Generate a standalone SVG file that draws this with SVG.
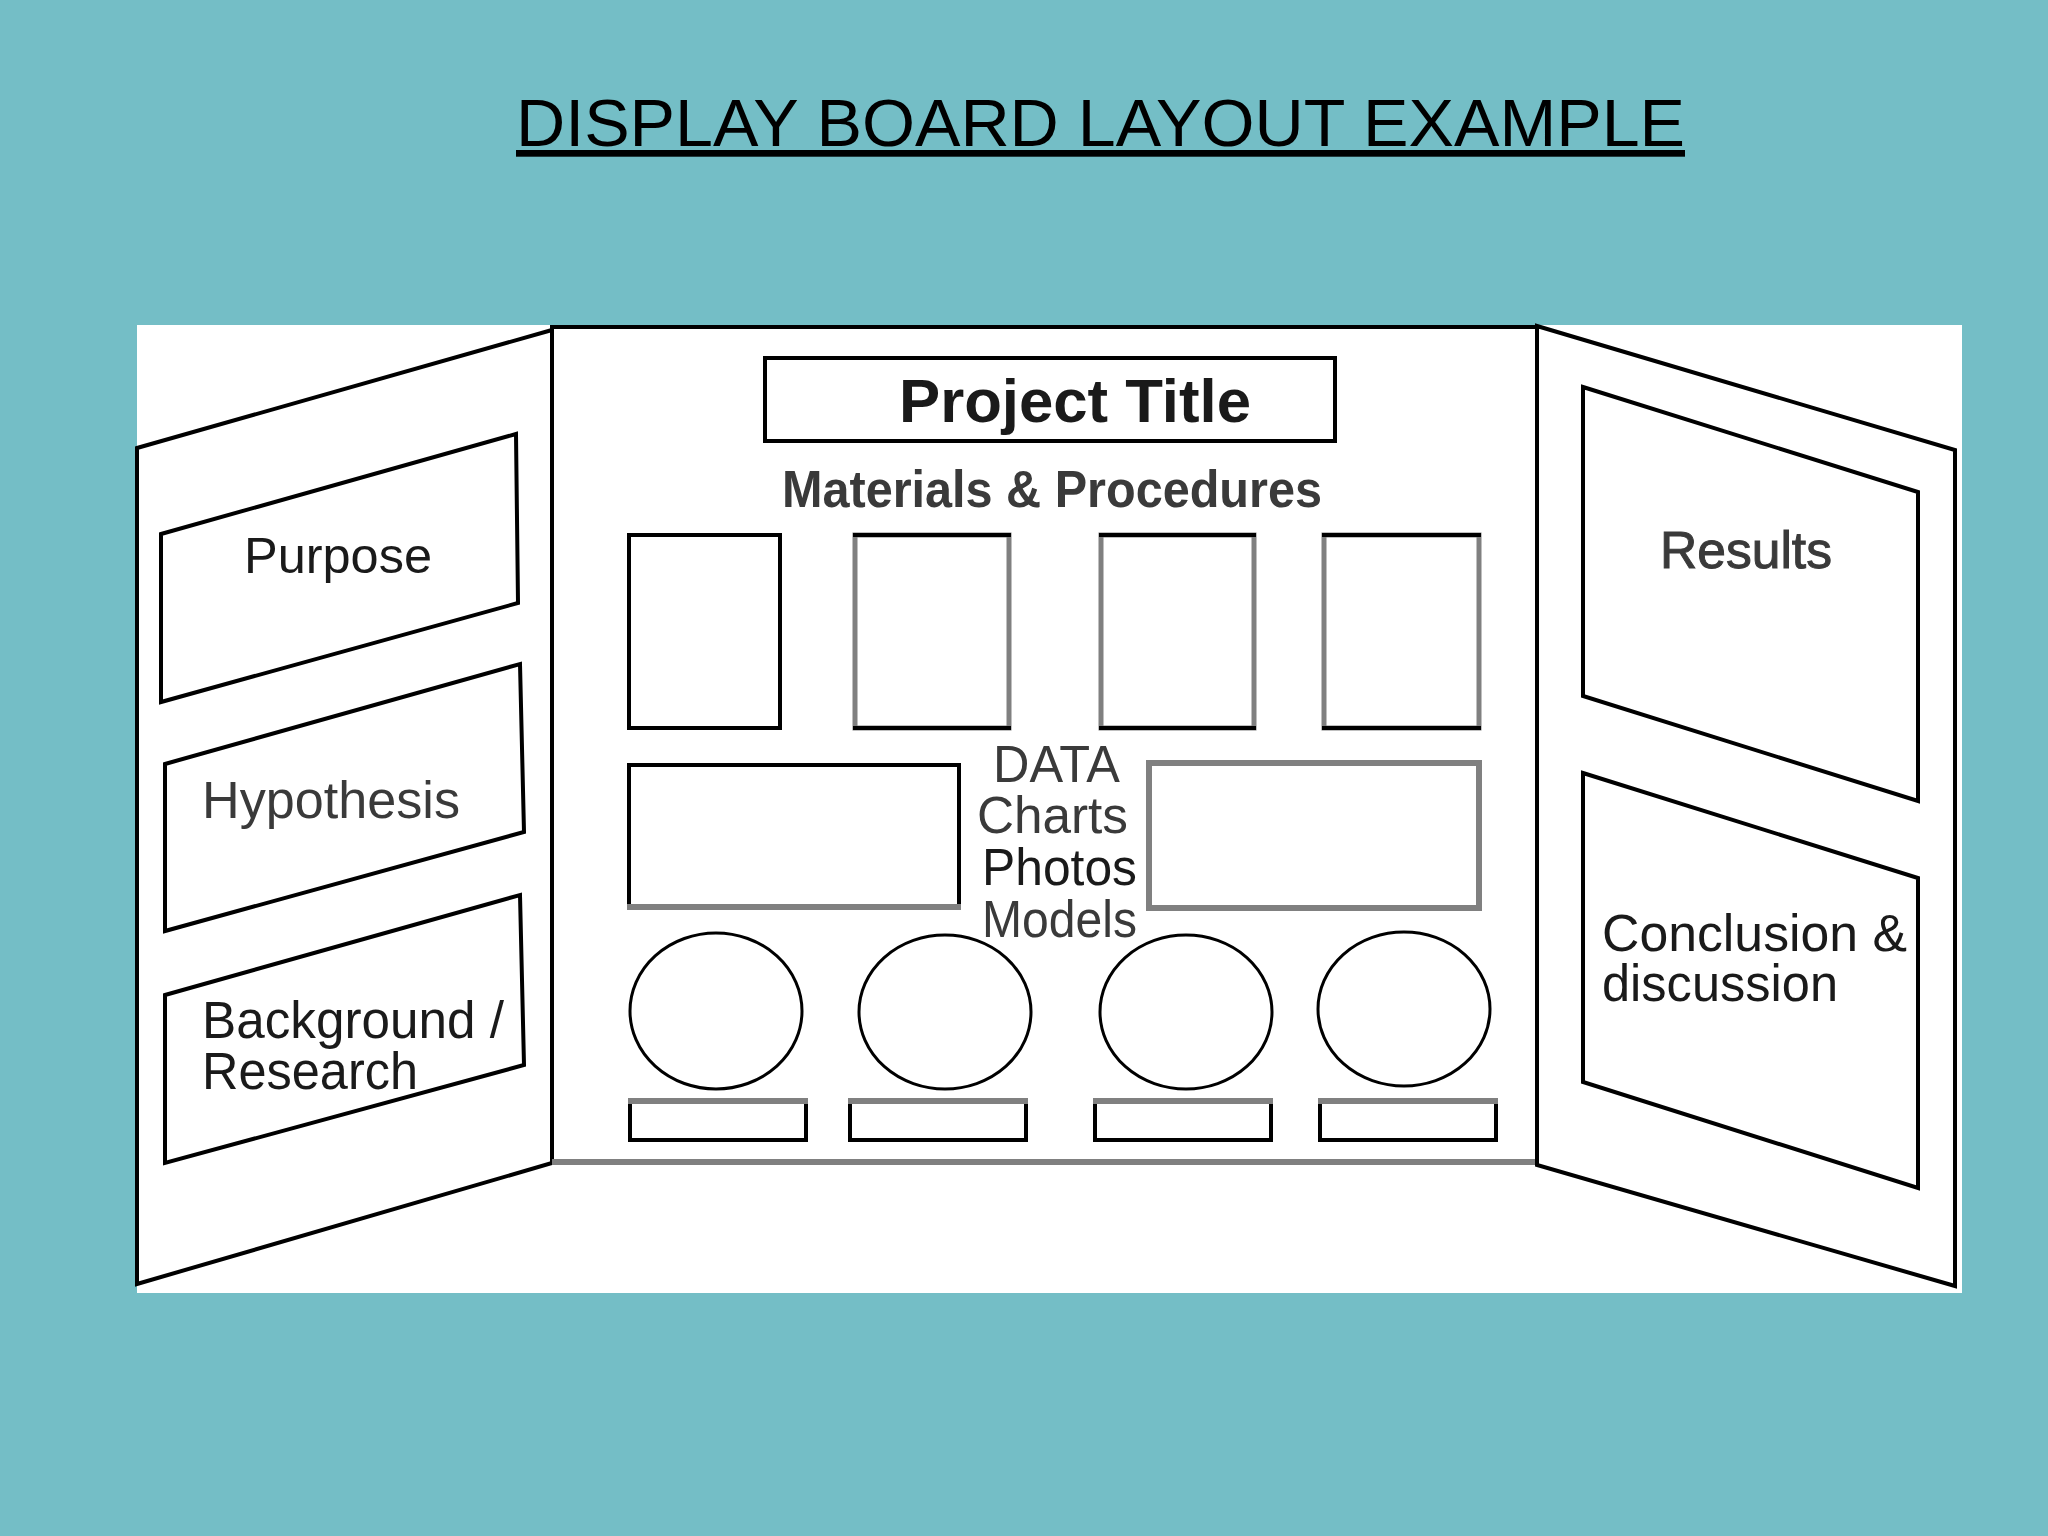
<svg xmlns="http://www.w3.org/2000/svg" width="2048" height="1536" viewBox="0 0 2048 1536">
<style>
.ln{fill:none;stroke:#000;stroke-width:4;stroke-linejoin:miter}
.gr{fill:none;stroke:#808080;stroke-width:5}
.bx{fill:#fff;stroke:#000;stroke-width:4}
.t{font-family:"Liberation Sans",Arial,sans-serif;fill:#1a1a1a}
.tg{font-family:"Liberation Sans",Arial,sans-serif;fill:#3a3a3a}
</style>
<rect x="0" y="0" width="2048" height="1536" fill="#74BEC6"/>
<text x="516" y="146" class="t" font-size="67" fill="#000" text-decoration="underline" textLength="1169" lengthAdjust="spacingAndGlyphs" style="fill:#000">DISPLAY BOARD LAYOUT EXAMPLE</text>
<rect x="137" y="325" width="1825" height="968" fill="#fff"/>

<g id="left-panel">
<polygon class="ln" points="137,448 552,330 552,1163 137,1284"/>
</g>
<g id="purpose">
<polygon class="ln" points="161,534 516,434 518,603 161,702"/>
<text x="244" y="573" class="t" font-size="50" textLength="188" lengthAdjust="spacingAndGlyphs">Purpose</text>
</g>
<g id="hypothesis">
<polygon class="ln" points="165,764 520,664 524,832 165,931"/>
<text x="202" y="818" class="tg" font-size="51" textLength="258" lengthAdjust="spacingAndGlyphs">Hypothesis</text>
</g>
<g id="background">
<polygon class="ln" points="165,995 520,895 524,1065 165,1163"/>
<text x="202" y="1038" class="t" font-size="51" textLength="302" lengthAdjust="spacingAndGlyphs">Background /</text>
<text x="202" y="1089" class="t" font-size="51" textLength="216" lengthAdjust="spacingAndGlyphs">Research</text>
</g>

<g id="center-panel">
<rect x="552" y="327" width="985" height="836" fill="#fff" stroke="#000" stroke-width="4"/>
<line x1="552" y1="1162" x2="1537" y2="1162" stroke="#808080" stroke-width="6"/>
</g>
<g id="project-title">
<rect x="765" y="358" width="570" height="83" class="bx"/>
<text x="899" y="422" class="t" font-size="61" font-weight="bold" textLength="352" lengthAdjust="spacingAndGlyphs">Project Title</text>
</g>
<g id="materials">
<text x="782" y="507" class="tg" font-size="52" font-weight="bold" textLength="540" lengthAdjust="spacingAndGlyphs">Materials &amp; Procedures</text>
<rect x="629" y="535" width="151" height="193" class="bx"/>
<rect x="855" y="535" width="154" height="193" fill="#fff" stroke="#808080" stroke-width="5"/>
<line x1="853" y1="535" x2="1011" y2="535" stroke="#000" stroke-width="4"/>
<line x1="853" y1="728" x2="1011" y2="728" stroke="#000" stroke-width="4"/>
<rect x="1101" y="535" width="153" height="193" fill="#fff" stroke="#808080" stroke-width="5"/>
<line x1="1099" y1="535" x2="1256" y2="535" stroke="#000" stroke-width="4"/>
<line x1="1099" y1="728" x2="1256" y2="728" stroke="#000" stroke-width="4"/>
<rect x="1324" y="535" width="155" height="193" fill="#fff" stroke="#808080" stroke-width="5"/>
<line x1="1322" y1="535" x2="1481" y2="535" stroke="#000" stroke-width="4"/>
<line x1="1322" y1="728" x2="1481" y2="728" stroke="#000" stroke-width="4"/>
</g>
<g id="data">
<rect x="629" y="765" width="330" height="143" class="bx"/>
<line x1="627" y1="907" x2="961" y2="907" stroke="#808080" stroke-width="6"/>
<rect x="1149" y="763" width="330" height="145" fill="#fff" stroke="#808080" stroke-width="6"/>
<text x="993" y="782" class="tg" font-size="52" textLength="127" lengthAdjust="spacingAndGlyphs">DATA</text>
<text x="977" y="833" class="tg" font-size="52" textLength="151" lengthAdjust="spacingAndGlyphs">Charts</text>
<text x="982" y="885" class="t" font-size="52" textLength="155" lengthAdjust="spacingAndGlyphs">Photos</text>
<text x="982" y="937" class="tg" font-size="52" textLength="155" lengthAdjust="spacingAndGlyphs">Models</text>
</g>
<g id="models">
<ellipse cx="716" cy="1011" rx="86" ry="78" fill="#fff" stroke="#000" stroke-width="3"/>
<ellipse cx="945" cy="1012" rx="86" ry="77" fill="#fff" stroke="#000" stroke-width="3"/>
<ellipse cx="1186" cy="1012" rx="86" ry="77" fill="#fff" stroke="#000" stroke-width="3"/>
<ellipse cx="1404" cy="1009" rx="86" ry="77" fill="#fff" stroke="#000" stroke-width="3"/>
<rect x="630" y="1101" width="176" height="39" fill="#fff" stroke="#000" stroke-width="4"/>
<rect x="850" y="1101" width="176" height="39" fill="#fff" stroke="#000" stroke-width="4"/>
<rect x="1095" y="1101" width="176" height="39" fill="#fff" stroke="#000" stroke-width="4"/>
<rect x="1320" y="1101" width="176" height="39" fill="#fff" stroke="#000" stroke-width="4"/>
<g stroke="#808080" stroke-width="6">
<line x1="628" y1="1101" x2="808" y2="1101"/>
<line x1="848" y1="1101" x2="1028" y2="1101"/>
<line x1="1093" y1="1101" x2="1273" y2="1101"/>
<line x1="1318" y1="1101" x2="1498" y2="1101"/>
</g>
</g>

<g id="right-panel">
<polygon class="ln" points="1537,326 1955,450 1955,1286 1537,1165"/>
</g>
<g id="results">
<polygon class="ln" points="1583,387 1918,492 1918,801 1583,696"/>
<text x="1660" y="568" class="tg" font-size="52" stroke="#3a3a3a" stroke-width="1" textLength="172" lengthAdjust="spacingAndGlyphs">Results</text>
</g>
<g id="conclusion">
<polygon class="ln" points="1583,773 1918,878 1918,1188 1583,1082"/>
<text x="1602" y="951" class="t" font-size="52" textLength="305" lengthAdjust="spacingAndGlyphs">Conclusion &amp;</text>
<text x="1602" y="1001" class="t" font-size="52" textLength="236" lengthAdjust="spacingAndGlyphs">discussion</text>
</g>
<g id="connectors"></g>
</svg>
